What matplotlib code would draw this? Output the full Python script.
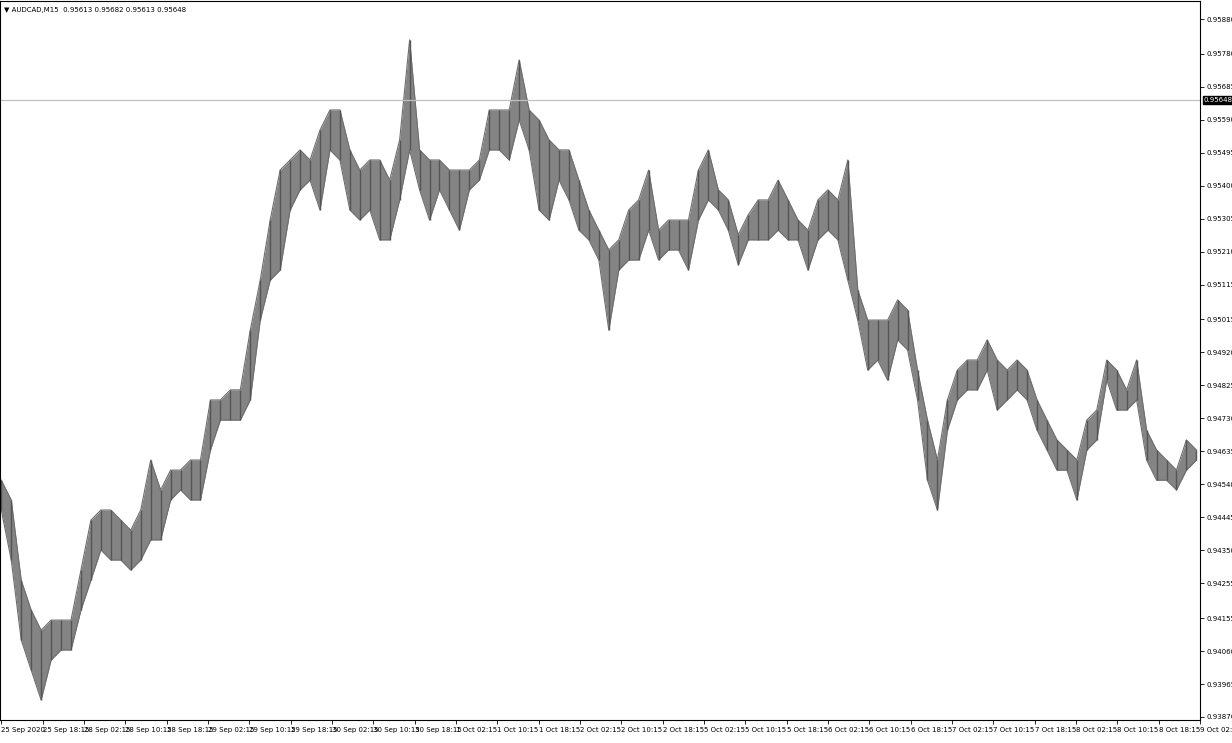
import matplotlib
matplotlib.use("Agg")
import matplotlib.pyplot as plt
import numpy as np

# AUDCAD M15, sampled roughly every 8 bars: (high, low)
highs = [0.94552, 0.94495, 0.94264, 0.94178, 0.94120, 0.94149, 0.94149, 0.94149, 0.94293, 0.94437,
         0.94466, 0.94466, 0.94437, 0.94408, 0.94466, 0.94610, 0.94524, 0.94581, 0.94581, 0.94610,
         0.94610, 0.94783, 0.94783, 0.94812, 0.94812, 0.94984, 0.95128, 0.95301, 0.95445, 0.95474,
         0.95503, 0.95474, 0.95560, 0.95618, 0.95618, 0.95503, 0.95445, 0.95474, 0.95474, 0.95416,
         0.95532, 0.95820, 0.95503, 0.95474, 0.95474, 0.95445, 0.95445, 0.95445, 0.95474, 0.95618,
         0.95618, 0.95618, 0.95762, 0.95618, 0.95589, 0.95532, 0.95503, 0.95503, 0.95416, 0.95330,
         0.95272, 0.95215, 0.95244, 0.95330, 0.95359, 0.95445, 0.95272, 0.95301, 0.95301, 0.95301,
         0.95445, 0.95503, 0.95388, 0.95359, 0.95259, 0.95316, 0.95359, 0.95359, 0.95416, 0.95359,
         0.95301, 0.95272, 0.95359, 0.95388, 0.95359, 0.95474, 0.95100, 0.95013, 0.95013, 0.95013,
         0.95071, 0.95042, 0.94869, 0.94725, 0.94610, 0.94783, 0.94869, 0.94898, 0.94898, 0.94956,
         0.94898, 0.94869, 0.94898, 0.94869, 0.94783, 0.94725, 0.94668, 0.94639, 0.94610, 0.94725,
         0.94754, 0.94898, 0.94869, 0.94812, 0.94898, 0.94696, 0.94639, 0.94610, 0.94581, 0.94668,
         0.94639]
lows = [0.94466, 0.94322, 0.94092, 0.94005, 0.93919, 0.94034, 0.94063, 0.94063, 0.94178, 0.94264,
        0.94351, 0.94322, 0.94322, 0.94293, 0.94322, 0.94380, 0.94380, 0.94495, 0.94524, 0.94495,
        0.94495, 0.94639, 0.94725, 0.94725, 0.94725, 0.94783, 0.95013, 0.95128, 0.95157, 0.95330,
        0.95388, 0.95416, 0.95330, 0.95503, 0.95474, 0.95330, 0.95301, 0.95330, 0.95244, 0.95244,
        0.95359, 0.95503, 0.95388, 0.95301, 0.95388, 0.95330, 0.95272, 0.95388, 0.95416, 0.95503,
        0.95503, 0.95474, 0.95589, 0.95503, 0.95330, 0.95301, 0.95416, 0.95359, 0.95272, 0.95244,
        0.95186, 0.94984, 0.95157, 0.95186, 0.95186, 0.95272, 0.95186, 0.95215, 0.95215, 0.95157,
        0.95301, 0.95359, 0.95330, 0.95272, 0.95172, 0.95244, 0.95244, 0.95244, 0.95272, 0.95244,
        0.95244, 0.95157, 0.95244, 0.95272, 0.95244, 0.95128, 0.95013, 0.94869, 0.94898, 0.94840,
        0.94956, 0.94927, 0.94783, 0.94552, 0.94466, 0.94696, 0.94783, 0.94812, 0.94812, 0.94869,
        0.94754, 0.94783, 0.94812, 0.94783, 0.94696, 0.94639, 0.94581, 0.94581, 0.94495, 0.94639,
        0.94668, 0.94840, 0.94754, 0.94754, 0.94783, 0.94610, 0.94552, 0.94552, 0.94524, 0.94581,
        0.94610]

price_ticks = [0.95880, 0.95780, 0.95685, 0.95590, 0.95495, 0.95400, 0.95305, 0.95210, 0.95115,
               0.95015, 0.94920, 0.94825, 0.94730, 0.94635, 0.94540, 0.94445, 0.94350, 0.94255,
               0.94155, 0.94060, 0.93965, 0.93870]
time_labels = ["25 Sep 2020", "25 Sep 18:15", "28 Sep 02:15", "28 Sep 10:15", "28 Sep 18:15",
               "29 Sep 02:15", "29 Sep 10:15", "29 Sep 18:15", "30 Sep 02:15", "30 Sep 10:15",
               "30 Sep 18:15", "1 Oct 02:15", "1 Oct 10:15", "1 Oct 18:15", "2 Oct 02:15",
               "2 Oct 10:15", "2 Oct 18:15", "5 Oct 02:15", "5 Oct 10:15", "5 Oct 18:15",
               "6 Oct 02:15", "6 Oct 10:15", "6 Oct 18:15", "7 Oct 02:15", "7 Oct 10:15",
               "7 Oct 18:15", "8 Oct 02:15", "8 Oct 10:15", "8 Oct 18:15", "9 Oct 02:15"]
last_price = 0.95648

BARS_PER_SAMPLE = 7.71
BARS_PER_LABEL = 32
FS = 5.0

fig = plt.figure(figsize=(12.32, 7.43), dpi=100)
ax = fig.add_axes([0.0, 23 / 743, 1200 / 1232, 1 - 24 / 743])
x = np.arange(len(highs)) * BARS_PER_SAMPLE
col = "#6e6e6e"
ax.fill_between(x, lows, highs, color=col, linewidth=0, alpha=0.85)
ax.plot(x, highs, color=col, linewidth=0.8)
ax.plot(x, lows, color=col, linewidth=0.8)
ax.vlines(x, lows, highs, color="#555555", linewidth=1.0)

ax.axhline(last_price, color="#c0c0c0", linewidth=0.9)
ax.set_xlim(-1, 1200 / 1.297)
y_top = 0.95880 + 18 / 698 * 0.0201
y_bot = 0.93870 - 3 / 698 * 0.0201
ax.set_ylim(y_bot, y_top)

ax.yaxis.tick_right()
ax.set_yticks(price_ticks)
ax.set_yticklabels([f"{p:.5f}" for p in price_ticks], fontsize=FS)
ax.set_xticks(np.arange(len(time_labels)) * BARS_PER_LABEL)
ax.set_xticklabels(time_labels, fontsize=FS, ha="left")
ax.tick_params(length=3, width=0.6, pad=2)
for s in ax.spines.values():
    s.set_linewidth(0.8)

ax.text(1.003, last_price, f"{last_price:.5f}", transform=ax.get_yaxis_transform(),
        fontsize=FS, color="white", va="center", ha="left",
        bbox=dict(boxstyle="square,pad=0.15", fc="black", ec="black"))
ax.text(0.003, 0.992, "\u25bc AUDCAD,M15  0.95613 0.95682 0.95613 0.95648", transform=ax.transAxes,
        fontsize=FS, va="top", ha="left")

fig.savefig("out.png", dpi=100)
